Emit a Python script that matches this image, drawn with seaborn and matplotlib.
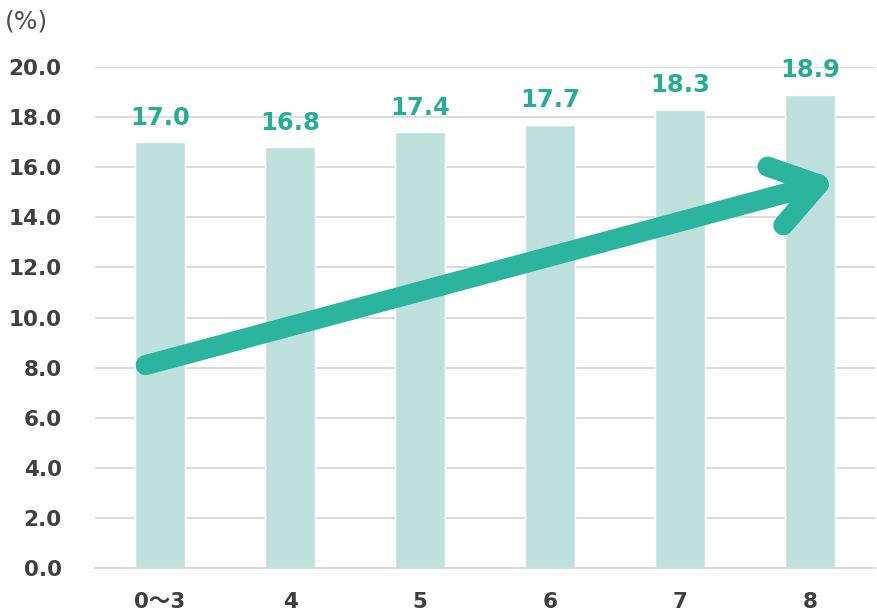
import matplotlib
matplotlib.use("Agg")
import matplotlib.pyplot as plt
import seaborn as sns
import pandas as pd

# data
categories = ["0〜3", "4", "5", "6", "7", "8"]
values = [17.0, 16.8, 17.4, 17.7, 18.3, 18.9]
y_ticks = [0, 2, 4, 6, 8, 10, 12, 14, 16, 18, 20]
trend_start = (-0.11, 8.1)
trend_end = (5.2, 15.5)

df = pd.DataFrame({"cat": categories, "val": values})

sns.set_theme(style="white")
plt.rcParams["font.family"] = ["DejaVu Sans", "Noto Sans CJK JP"]

fig = plt.figure(figsize=(8.77, 6.15), dpi=100)
ax = fig.add_axes([95 / 877, 47 / 615, 780 / 877, 501 / 615])

sns.barplot(data=df, x="cat", y="val", color="#BFE1DE", saturation=1,
            width=0.39, ax=ax, zorder=2)

ax.set_ylim(0, 20)
ax.set_xlim(-0.5, 5.5)
ax.set_yticks(y_ticks)
ax.set_yticklabels([f"{t:.1f}" for t in y_ticks])
ax.grid(axis="y", color="#D9D9D9", linewidth=1.3, zorder=0)
ax.set_axisbelow(True)
for s in ["top", "right", "left"]:
    ax.spines[s].set_visible(False)
ax.spines["bottom"].set_color("#D9D9D9")
ax.spines["bottom"].set_linewidth(1.3)

ax.tick_params(axis="y", length=0, pad=24, labelsize=15.5, labelcolor="#404040")
ax.tick_params(axis="x", length=0, pad=17, labelsize=15.5, labelcolor="#404040")
for lab in ax.get_xticklabels() + ax.get_yticklabels():
    lab.set_fontweight("bold")
ax.set_xlabel("")
ax.set_ylabel("")

# value labels
for i, v in enumerate(values):
    ax.annotate(f"{v:.1f}", (i, v), xytext=(0, 9), textcoords="offset points",
                ha="center", va="bottom", fontsize=17.5, fontweight="bold",
                color="#28AC98", annotation_clip=False, zorder=4)

# trend arrow
ax.annotate("", xy=trend_end, xytext=trend_start,
            arrowprops=dict(arrowstyle="->,head_length=1.4,head_width=0.95",
                            mutation_scale=23, lw=14.5, color="#2BB5A0",
                            capstyle="round", joinstyle="round",
                            shrinkA=0, shrinkB=0),
            zorder=5, annotation_clip=False)

fig.text(5 / 877, 1 - 22 / 615, "(%)", ha="left", va="center",
         fontsize=18, color="#505050")

fig.savefig("out.png", dpi=100)
